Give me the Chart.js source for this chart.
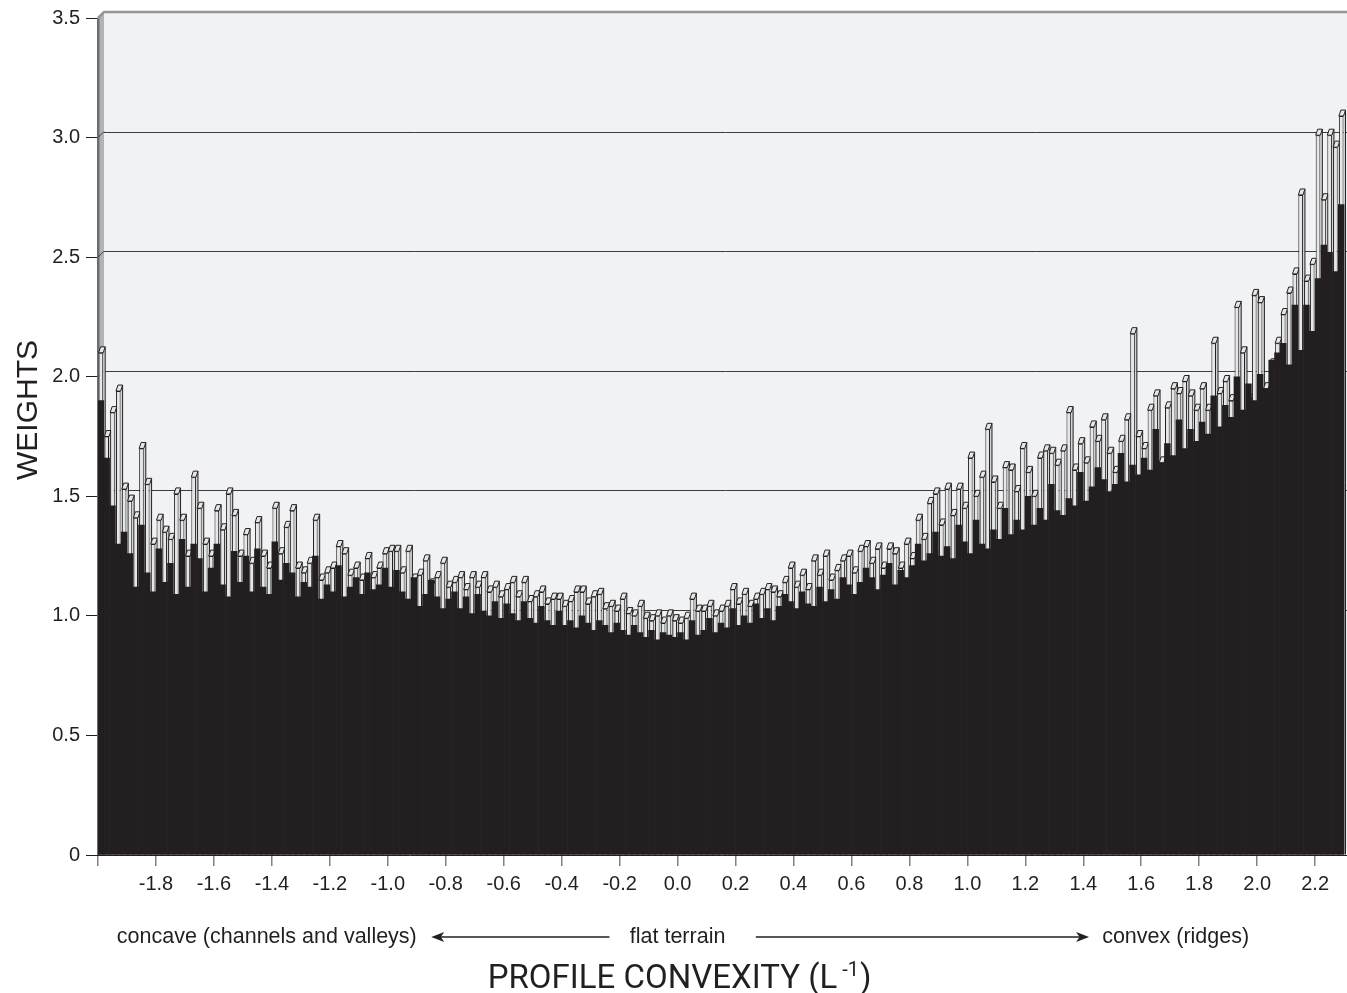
<!DOCTYPE html>
<html><head><meta charset="utf-8">
<script src="https://cdn.jsdelivr.net/npm/chart.js@4.4.1/dist/chart.umd.min.js"></script>
<style>html,body{margin:0;padding:0;background:#fff}#wrap{position:relative;width:1347px;height:993px}</style>
</head><body><div id="wrap"><canvas id="c"></canvas></div>
<script>
// bin centres (profile convexity)
const xCenters = [
-1.99,-1.97,-1.95,-1.93,-1.91,-1.89,-1.87,-1.85,-1.83,-1.81,
-1.79,-1.77,-1.75,-1.73,-1.71,-1.69,-1.67,-1.65,-1.63,-1.61,
-1.59,-1.57,-1.55,-1.53,-1.51,-1.49,-1.47,-1.45,-1.43,-1.41,
-1.39,-1.37,-1.35,-1.33,-1.31,-1.29,-1.27,-1.25,-1.23,-1.21,
-1.19,-1.17,-1.15,-1.13,-1.11,-1.09,-1.07,-1.05,-1.03,-1.01,
-0.99,-0.97,-0.95,-0.93,-0.91,-0.89,-0.87,-0.85,-0.83,-0.81,
-0.79,-0.77,-0.75,-0.73,-0.71,-0.69,-0.67,-0.65,-0.63,-0.61,
-0.59,-0.57,-0.55,-0.53,-0.51,-0.49,-0.47,-0.45,-0.43,-0.41,
-0.39,-0.37,-0.35,-0.33,-0.31,-0.29,-0.27,-0.25,-0.23,-0.21,
-0.19,-0.17,-0.15,-0.13,-0.11,-0.09,-0.07,-0.05,-0.03,-0.01,
0.01,0.03,0.05,0.07,0.09,0.11,0.13,0.15,0.17,0.19,
0.21,0.23,0.25,0.27,0.29,0.31,0.33,0.35,0.37,0.39,
0.41,0.43,0.45,0.47,0.49,0.51,0.53,0.55,0.57,0.59,
0.61,0.63,0.65,0.67,0.69,0.71,0.73,0.75,0.77,0.79,
0.81,0.83,0.85,0.87,0.89,0.91,0.93,0.95,0.97,0.99,
1.01,1.03,1.05,1.07,1.09,1.11,1.13,1.15,1.17,1.19,
1.21,1.23,1.25,1.27,1.29,1.31,1.33,1.35,1.37,1.39,
1.41,1.43,1.45,1.47,1.49,1.51,1.53,1.55,1.57,1.59,
1.61,1.63,1.65,1.67,1.69,1.71,1.73,1.75,1.77,1.79,
1.81,1.83,1.85,1.87,1.89,1.91,1.93,1.95,1.97,1.99,
2.01,2.03,2.05,2.07,2.09,2.11,2.13,2.15,2.17,2.19,
2.21,2.23,2.25,2.27,2.29];

// back row weights (light bars)
const backWeights = [
2.10,1.75,1.85,1.94,1.53,1.48,1.41,1.70,1.55,1.30,
1.40,1.35,1.32,1.51,1.40,1.25,1.58,1.45,1.30,1.25,
1.44,1.36,1.51,1.42,1.25,1.34,1.22,1.39,1.25,1.20,
1.45,1.26,1.37,1.44,1.20,1.18,1.22,1.40,1.15,1.18,
1.20,1.29,1.26,1.17,1.20,1.15,1.24,1.16,1.20,1.26,
1.27,1.27,1.18,1.27,1.15,1.17,1.23,1.13,1.16,1.22,
1.12,1.14,1.16,1.11,1.16,1.12,1.16,1.10,1.12,1.08,
1.11,1.14,1.08,1.14,1.06,1.08,1.10,1.05,1.07,1.07,
1.04,1.06,1.10,1.10,1.05,1.08,1.09,1.03,1.04,1.02,
1.07,1.01,1.00,1.04,0.99,0.98,1.00,0.97,1.00,0.98,
0.97,0.99,1.07,1.02,1.02,1.04,1.00,1.02,1.04,1.11,
1.05,1.09,1.04,1.07,1.09,1.11,1.10,1.08,1.14,1.20,
1.12,1.17,1.11,1.23,1.17,1.25,1.15,1.19,1.23,1.25,
1.18,1.27,1.29,1.22,1.28,1.20,1.28,1.26,1.20,1.30,
1.24,1.40,1.32,1.47,1.51,1.38,1.53,1.42,1.53,1.45,
1.66,1.50,1.58,1.78,1.56,1.45,1.62,1.61,1.52,1.70,
1.60,1.50,1.66,1.69,1.68,1.63,1.69,1.85,1.61,1.72,
1.64,1.79,1.73,1.82,1.68,1.60,1.73,1.82,2.18,1.75,
1.70,1.86,1.92,1.64,1.87,1.95,1.93,1.98,1.92,1.86,
1.95,1.86,2.14,1.93,1.98,1.90,2.29,2.10,1.90,2.34,
2.31,1.95,2.05,2.14,2.26,2.35,2.43,2.76,2.40,2.47,
3.01,2.74,3.01,2.96,3.09];

// front row weights (dark bars)
const frontWeights = [
1.90,1.66,1.46,1.30,1.35,1.26,1.12,1.38,1.18,1.10,
1.28,1.14,1.22,1.09,1.32,1.12,1.30,1.24,1.10,1.20,
1.30,1.13,1.08,1.27,1.14,1.25,1.10,1.28,1.12,1.09,
1.31,1.15,1.22,1.18,1.08,1.14,1.12,1.25,1.07,1.13,
1.10,1.21,1.08,1.12,1.16,1.09,1.18,1.11,1.13,1.20,
1.12,1.19,1.10,1.07,1.16,1.04,1.09,1.15,1.08,1.03,
1.07,1.10,1.03,1.08,1.01,1.09,1.02,1.00,1.06,0.99,
1.05,1.01,0.98,1.06,0.99,0.97,1.04,0.98,0.96,1.02,
0.96,0.98,0.95,1.00,0.97,0.94,0.98,0.96,0.93,0.97,
0.94,0.92,0.96,0.93,0.91,0.94,0.90,0.93,0.92,0.91,
0.93,0.90,0.98,0.92,0.94,0.99,0.93,0.97,0.95,1.03,
0.96,1.00,0.97,1.05,0.99,1.03,0.98,1.04,1.09,1.06,
1.03,1.10,1.05,1.04,1.12,1.06,1.11,1.07,1.16,1.13,
1.09,1.14,1.20,1.16,1.11,1.17,1.22,1.13,1.19,1.16,
1.21,1.30,1.23,1.26,1.35,1.25,1.29,1.24,1.38,1.31,
1.26,1.40,1.30,1.28,1.36,1.32,1.45,1.34,1.40,1.36,
1.50,1.38,1.45,1.40,1.55,1.44,1.42,1.49,1.46,1.60,
1.48,1.54,1.62,1.57,1.52,1.55,1.68,1.56,1.63,1.59,
1.66,1.61,1.78,1.64,1.72,1.67,1.82,1.70,1.78,1.73,
1.81,1.76,1.92,1.79,1.88,1.83,2.00,1.86,1.97,1.90,
2.01,1.95,2.07,2.10,2.14,2.05,2.30,2.11,2.30,2.19,
2.41,2.55,2.52,2.44,2.72];

const xTickValues = [-2.0,-1.8,-1.6,-1.4,-1.2,-1.0,-0.8,-0.6,-0.4,-0.2,0.0,0.2,0.4,0.6,0.8,1.0,1.2,1.4,1.6,1.8,2.0,2.2];
const xTickLabels = ['','-1.8','-1.6','-1.4','-1.2','-1.0','-0.8','-0.6','-0.4','-0.2','0.0','0.2','0.4','0.6','0.8','1.0','1.2','1.4','1.6','1.8','2.0','2.2'];
const yTickLabels = ['0','0.5','1.0','1.5','2.0','2.5','3.0','3.5'];
const wallGridValues = [1.0,1.5,2.0,2.5,3.0];
const yTitle = 'WEIGHTS';
const xTitleParts = ['PROFILE CONVEXITY (L', '-1', ')'];
const directionLabels = ['concave (channels and valleys)', 'flat terrain', 'convex (ridges)'];

const FONT = '"Liberation Sans", Arial, Helvetica, sans-serif';
const INK = '#231f20';
const DEPTH = 6;

const wallPlugin = {
  id: 'wall',
  beforeDatasetsDraw(chart) {
    const {ctx, chartArea: a, scales: {y}} = chart;
    ctx.save();
    ctx.fillStyle = '#f1f2f4';
    ctx.fillRect(a.left + DEPTH, a.top - DEPTH, a.right - a.left - DEPTH, a.bottom - a.top);
    ctx.beginPath();
    ctx.moveTo(a.left, a.top); ctx.lineTo(a.left + DEPTH, a.top - DEPTH);
    ctx.lineTo(a.left + DEPTH, a.bottom); ctx.lineTo(a.left, a.bottom); ctx.closePath();
    ctx.fillStyle = '#b1b3b6'; ctx.fill();
    ctx.fillStyle = '#6d6e71'; ctx.fillRect(a.left - 1, a.top, 2.5, a.bottom - a.top);
    ctx.strokeStyle = '#3c3c3e'; ctx.lineWidth = 1;
    wallGridValues.forEach(v => {
      const ty = y.getPixelForValue(v);
      const py = Math.round(ty - DEPTH) + 0.5;
      ctx.beginPath(); ctx.moveTo(a.left + DEPTH, py); ctx.lineTo(a.right, py); ctx.stroke();
      ctx.beginPath(); ctx.moveTo(a.left, ty); ctx.lineTo(a.left + DEPTH, ty - DEPTH); ctx.stroke();
    });
    ctx.strokeStyle = '#939598'; ctx.lineWidth = 2.5;
    ctx.beginPath(); ctx.moveTo(a.left, a.top); ctx.lineTo(a.left + DEPTH, a.top - DEPTH); ctx.lineTo(a.right, a.top - DEPTH); ctx.stroke();
    ctx.restore();
  }
};

const bar3dPlugin = {
  id: 'bar3d',
  beforeDatasetDraw(chart, args) {
    const ds = chart.data.datasets[args.index];
    if (ds.label !== 'back') return;
    const ctx = chart.ctx;
    const dx = 2, dy = 6;
    ctx.save();
    args.meta.data.forEach(el => {
      const p = el.getProps(['x', 'y', 'base', 'width'], true);
      const l = p.x - p.width / 2, r = p.x + p.width / 2;
      ctx.lineWidth = 1; ctx.strokeStyle = INK;
      ctx.beginPath();
      ctx.moveTo(r, p.y); ctx.lineTo(r + dx, p.y - dy); ctx.lineTo(r + dx, p.base); ctx.lineTo(r, p.base); ctx.closePath();
      ctx.fillStyle = '#d1d3d4'; ctx.fill();
      ctx.beginPath(); ctx.moveTo(r + dx, p.y - dy); ctx.lineTo(r + dx, p.base); ctx.stroke();
      ctx.beginPath();
      ctx.moveTo(l, p.y); ctx.lineTo(l + dx, p.y - dy); ctx.lineTo(r + dx, p.y - dy); ctx.lineTo(r, p.y); ctx.closePath();
      ctx.fillStyle = '#e6e7e8'; ctx.fill(); ctx.stroke();
      el.draw(ctx);
    });
    ctx.restore();
    return false;
  }
};

function arrowHead(ctx, x, y, dir) {
  ctx.beginPath();
  ctx.moveTo(x, y);
  ctx.lineTo(x + dir * 13, y - 5);
  ctx.lineTo(x + dir * 9.5, y);
  ctx.lineTo(x + dir * 13, y + 5);
  ctx.closePath();
  ctx.fill();
}

const textPlugin = {
  id: 'texts',
  afterDraw(chart) {
    const ctx = chart.ctx, xs = chart.scales.x;
    ctx.save();
    ctx.fillStyle = INK; ctx.strokeStyle = INK;
    ctx.save();
    ctx.translate(29, 410); ctx.rotate(-Math.PI / 2);
    ctx.font = '30px ' + FONT; ctx.textAlign = 'center'; ctx.textBaseline = 'middle';
    ctx.fillText(yTitle, 0, 0);
    ctx.restore();
    const rowY = 937;
    ctx.font = '21.5px ' + FONT; ctx.textBaseline = 'middle';
    ctx.textAlign = 'right'; ctx.fillText(directionLabels[0], xs.getPixelForValue(-0.9), rowY);
    ctx.textAlign = 'center'; ctx.fillText(directionLabels[1], xs.getPixelForValue(0), rowY);
    ctx.textAlign = 'left'; ctx.fillText(directionLabels[2], xs.getPixelForValue(1.465), rowY);
    ctx.lineWidth = 1.5;
    const la = xs.getPixelForValue(-0.85), lb = xs.getPixelForValue(-0.235);
    ctx.beginPath(); ctx.moveTo(la + 8, rowY); ctx.lineTo(lb, rowY); ctx.stroke();
    arrowHead(ctx, la, rowY, 1);
    const ra = xs.getPixelForValue(0.27), rb = xs.getPixelForValue(1.42);
    ctx.beginPath(); ctx.moveTo(ra, rowY); ctx.lineTo(rb - 8, rowY); ctx.stroke();
    arrowHead(ctx, rb, rowY, -1);
    const mainFont = '33px Roboto, ' + FONT, supFont = '20px Roboto, ' + FONT;
    ctx.font = mainFont; const w1 = ctx.measureText(xTitleParts[0]).width;
    const w3 = ctx.measureText(xTitleParts[2]).width;
    ctx.font = supFont; const w2 = ctx.measureText(xTitleParts[1]).width;
    const gap1 = 5, gap2 = 1;
    const total = w1 + gap1 + w2 + gap2 + w3;
    let cx = xs.getPixelForValue(0) + 2 - total / 2;
    ctx.textAlign = 'left'; ctx.textBaseline = 'alphabetic';
    ctx.font = mainFont; ctx.fillText(xTitleParts[0], cx, 988);
    cx += w1 + gap1;
    ctx.font = supFont; ctx.fillText(xTitleParts[1], cx, 976);
    cx += w2 + gap2;
    ctx.font = mainFont; ctx.fillText(xTitleParts[2], cx, 988);
    ctx.restore();
  }
};

new Chart(document.getElementById('c'), {
  type: 'bar',
  data: {
    datasets: [
      {
        label: 'front',
        data: xCenters.map((x, i) => ({x: x, y: frontWeights[i]})),
        backgroundColor: INK, borderWidth: 0,
        barPercentage: 1, categoryPercentage: 1, grouped: false, order: 0
      },
      {
        label: 'back',
        data: xCenters.map((x, i) => ({x: x, y: backWeights[i]})),
        backgroundColor: '#e6e7e8', borderColor: INK, borderWidth: 1,
        barPercentage: 0.8, categoryPercentage: 1, grouped: false, order: 1
      }
    ]
  },
  options: {
    responsive: true, maintainAspectRatio: false, animation: false, events: [],
    layout: {padding: {top: 18, right: 0, bottom: 0, left: 0}},
    plugins: {legend: {display: false}, tooltip: {enabled: false}},
    scales: {
      x: {
        type: 'linear', min: -2.0, max: 2.31, offset: false,
        afterBuildTicks: s => { s.ticks = xTickValues.map(v => ({value: v})); },
        afterFit: s => { s.height = 138; },
        ticks: {callback: (v, i) => xTickLabels[i], font: {family: FONT, size: 20}, color: INK, padding: 6, maxRotation: 0, autoSkip: false},
        grid: {offset: false, drawOnChartArea: false, drawTicks: true, tickLength: 11, color: '#808285', lineWidth: 1.5},
        border: {display: true, color: INK}
      },
      y: {
        min: 0, max: 3.5,
        afterFit: s => { s.width = 98; },
        ticks: {stepSize: 0.5, callback: (v, i) => yTickLabels[i], font: {family: FONT, size: 20}, color: INK, padding: 6},
        grid: {drawOnChartArea: false, drawTicks: true, tickLength: 12, color: INK, lineWidth: 1},
        border: {display: false}
      }
    }
  },
  plugins: [wallPlugin, bar3dPlugin, textPlugin]
});
</script>
</body></html>
